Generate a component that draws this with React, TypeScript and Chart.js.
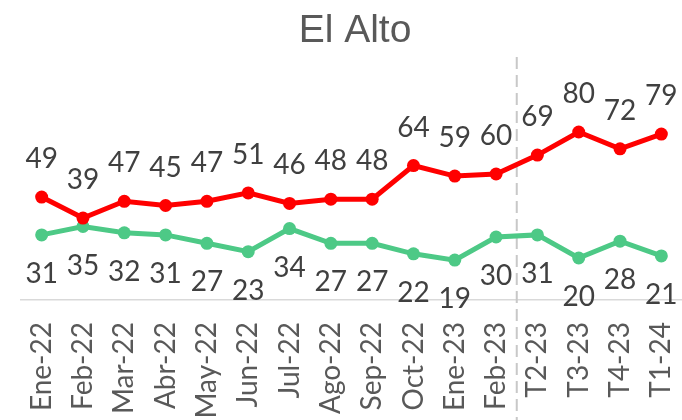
import React, { useEffect, useRef } from "react";
import { Chart, registerables } from "chart.js";

Chart.register(...registerables);

const categories = [
  "Ene-22", "Feb-22", "Mar-22", "Abr-22", "May-22", "Jun-22", "Jul-22", "Ago-22",
  "Sep-22", "Oct-22", "Ene-23", "Feb-23", "T2-23", "T3-23", "T4-23", "T1-24",
];
const redValues = [49, 39, 47, 45, 47, 51, 46, 48, 48, 64, 59, 60, 69, 80, 72, 79];
const greenValues = [31, 35, 32, 31, 27, 23, 34, 27, 27, 22, 19, 30, 31, 20, 28, 21];
const titleText = "El Alto";
const dividerAfterIndex = 11;

const labelPlugin = {
  id: "customLabels",
  afterDatasetsDraw(chart: any) {
    const ctx = chart.ctx;
    ctx.save();
    ctx.font = "28px Lato";
    ctx.fillStyle = "#404040";
    ctx.textAlign = "center";
    ctx.textBaseline = "middle";
    chart.data.datasets.forEach((ds: any, di: number) => {
      const meta = chart.getDatasetMeta(di);
      meta.data.forEach((pt: any, i: number) => {
        const off = di === 0 ? -38 : 39;
        ctx.fillText(String(ds.data[i]), pt.x, pt.y + off);
      });
    });
    ctx.restore();
  },
  beforeDatasetsDraw(chart: any) {
    const ctx = chart.ctx;
    const xs = chart.scales.x;
    const x = (xs.getPixelForValue(dividerAfterIndex) + xs.getPixelForValue(dividerAfterIndex + 1)) / 2;
    ctx.save();
    ctx.strokeStyle = "#c8c8c8";
    ctx.lineWidth = 2;
    ctx.setLineDash([12, 6]);
    ctx.beginPath();
    ctx.moveTo(x, 57);
    ctx.lineTo(x, chart.height);
    ctx.stroke();
    ctx.restore();
    ctx.save();
    ctx.font = "39px 'Liberation Sans'";
    ctx.fillStyle = "#595959";
    ctx.textAlign = "center";
    ctx.textBaseline = "middle";
    ctx.fillText(titleText, 355, 31);
    ctx.restore();
  },
};

export default function App() {
  const ref = useRef<HTMLCanvasElement>(null);
  useEffect(() => {
    document.body.style.margin = "0";
    const chart = new Chart(ref.current!, {
      type: "line",
      data: {
        labels: categories,
        datasets: [
          {
            data: redValues,
            borderColor: "#ff0000",
            backgroundColor: "#ff0000",
            borderWidth: 5,
            pointRadius: 6.5,
            pointBorderWidth: 0,
            pointBackgroundColor: "#ff0000",
          },
          {
            data: greenValues,
            borderColor: "#4dc986",
            backgroundColor: "#4dc986",
            borderWidth: 5,
            pointRadius: 6.5,
            pointBorderWidth: 0,
            pointBackgroundColor: "#4dc986",
          },
        ],
      },
      options: {
        animation: false,
        responsive: false,
        layout: { autoPadding: false, padding: { left: 21, right: 0, top: 90, bottom: 0 } },
        plugins: { legend: { display: false }, tooltip: { enabled: false }, title: { display: false } },
        scales: {
          y: { display: false, min: 0, max: 100 },
          x: {
            offset: true,
            grid: { display: false, drawTicks: false },
            border: { display: true, color: "#d9d9d9", width: 1.5 },
            ticks: {
              minRotation: 90,
              maxRotation: 90,
              padding: 22,
              autoSkip: false,
              color: "#595959",
              font: { family: "Lato", size: 28 },
            },
            afterFit(scale: any) {
              scale.height = 120;
              scale.paddingLeft = 0;
              scale.paddingRight = 0;
            },
          },
        },
      },
      plugins: [labelPlugin],
    });
    return () => chart.destroy();
  }, []);
  return <canvas ref={ref} width={682} height={420} style={{ display: "block" }} />;
}
